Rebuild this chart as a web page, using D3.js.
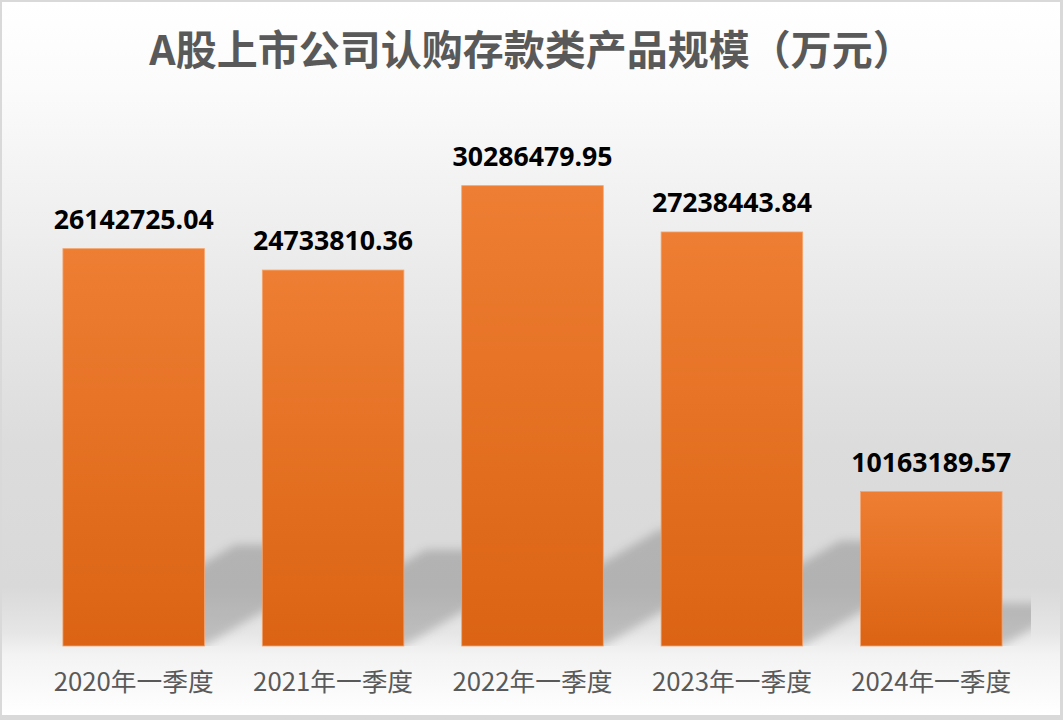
<!DOCTYPE html>
<html lang="zh">
<head>
<meta charset="utf-8">
<title>A股上市公司认购存款类产品规模（万元）</title>
<script src="https://cdnjs.cloudflare.com/ajax/libs/d3/7.8.5/d3.min.js"></script>
<style>
  body { margin: 0; background: #fff; }
  svg { display: block; }
</style>
</head>
<body>
<svg id="chart" width="1063" height="720"></svg>
<script>
// data
var quarters = ["2020年一季度", "2021年一季度", "2022年一季度", "2023年一季度", "2024年一季度"];
var amounts = [26142725.04, 24733810.36, 30286479.95, 27238443.84, 10163189.57];
var yDomain = [0, 35000000];

var W = 1063, H = 720;
var plot = { left: 34, right: 1031, top: 114, bottom: 646 };

var svg = d3.select("#chart");
var defs = svg.append("defs");

// background gradient (white -> grey -> white)
var bg = defs.append("linearGradient").attr("id", "bgGrad")
    .attr("x1", 0).attr("y1", 0).attr("x2", 0).attr("y2", 1);
[[0, "#ffffff"], [0.12, "#fbfbfb"], [0.4, "#e9e9e9"], [0.62, "#dcdcdc"],
 [0.82, "#d9d9d9"], [0.885, "#e6e6e6"], [0.915, "#f3f3f3"], [1, "#ffffff"]]
  .forEach(function(s) { bg.append("stop").attr("offset", s[0]).attr("stop-color", s[1]); });

// bar gradient
var bar = defs.append("linearGradient").attr("id", "barGrad")
    .attr("x1", 0).attr("y1", 0).attr("x2", 0).attr("y2", 1);
bar.append("stop").attr("offset", 0).attr("stop-color", "#ee7e33");
bar.append("stop").attr("offset", 1).attr("stop-color", "#db6313");

defs.append("filter").attr("id", "blur")
    .attr("x", "-20%").attr("y", "-20%").attr("width", "140%").attr("height", "140%")
  .append("feGaussianBlur").attr("stdDeviation", 5);

defs.append("clipPath").attr("id", "plotClip")
  .append("rect")
    .attr("x", plot.left).attr("y", plot.top)
    .attr("width", plot.right - plot.left).attr("height", plot.bottom - plot.top);

// frame
svg.append("rect").attr("width", W).attr("height", H).attr("fill", "#d9d9d9");
svg.append("rect").attr("x", 2).attr("y", 2).attr("width", W - 5).attr("height", H - 7)
    .attr("fill", "url(#bgGrad)");

var x = d3.scaleBand().domain(quarters).range([plot.left, plot.right])
    .paddingInner(0.29).paddingOuter(0.145);
var y = d3.scaleLinear().domain(yDomain).range([plot.bottom, plot.top]);

var rows = quarters.map(function(q, i) { return { q: q, v: amounts[i] }; });

// perspective shadows cast up-right behind the bars
var shadows = svg.append("g").attr("clip-path", "url(#plotClip)")
  .append("g").attr("filter", "url(#blur)");
shadows.selectAll("path")
  .data(rows)
  .enter().append("path")
    .attr("fill", "#000")
    .attr("fill-opacity", 0.18)
    .attr("d", function(d) {
      var h = y(0) - y(d.v);
      var sh = 0.24 * h + 6, dx = 1.7 * sh;
      var x0 = x(d.q), x1 = x0 + x.bandwidth(), b = y(0);
      return "M" + x0 + "," + b + "L" + x1 + "," + b +
             "L" + (x1 + dx) + "," + (b - sh) + "L" + (x0 + dx) + "," + (b - sh) + "Z";
    });

// bars
svg.append("g").selectAll("rect")
  .data(rows)
  .enter().append("rect")
    .attr("x", function(d) { return x(d.q); })
    .attr("y", function(d) { return y(d.v); })
    .attr("width", x.bandwidth())
    .attr("height", function(d) { return y(0) - y(d.v); })
    .attr("fill", "url(#barGrad)")
    .attr("stroke", "#f4a56f")
    .attr("stroke-width", 0.8);

// value labels (the original text is drawn a little wide)
var fmt = d3.format(".2f");
svg.append("g").selectAll("text")
  .data(rows)
  .enter().append("text")
    .attr("x", function(d) { return x(d.q) + x.bandwidth() / 2; })
    .attr("y", function(d) { return y(d.v) - 20; })
    .attr("text-anchor", "middle")
    .attr("textLength", 160)
    .attr("lengthAdjust", "spacingAndGlyphs")
    .style("font-family", "'Open Sans', 'DejaVu Sans', sans-serif")
    .style("font-weight", "bold")
    .style("font-size", "26px")
    .style("fill", "#000")
    .text(function(d) { return fmt(d.v); });

// category axis (no line, no ticks)
var xAxis = svg.append("g")
    .attr("transform", "translate(0," + plot.bottom + ")")
    .call(d3.axisBottom(x).tickSize(0).tickPadding(0));
xAxis.select(".domain").remove();
xAxis.selectAll("text")
    .attr("dy", null)
    .attr("y", 45)
    .attr("textLength", 160)
    .attr("lengthAdjust", "spacingAndGlyphs")
    .style("font-family", "'Noto Sans CJK SC', sans-serif")
    .style("font-size", "25px")
    .style("fill", "#595959");

// title
svg.append("text")
    .attr("x", W / 2)
    .attr("y", 65)
    .attr("text-anchor", "middle")
    .style("font-family", "'Noto Sans CJK SC', sans-serif")
    .style("font-weight", "bold")
    .style("font-size", "41px")
    .style("fill", "#595959")
    .text("A股上市公司认购存款类产品规模（万元）");
</script>
</body>
</html>
